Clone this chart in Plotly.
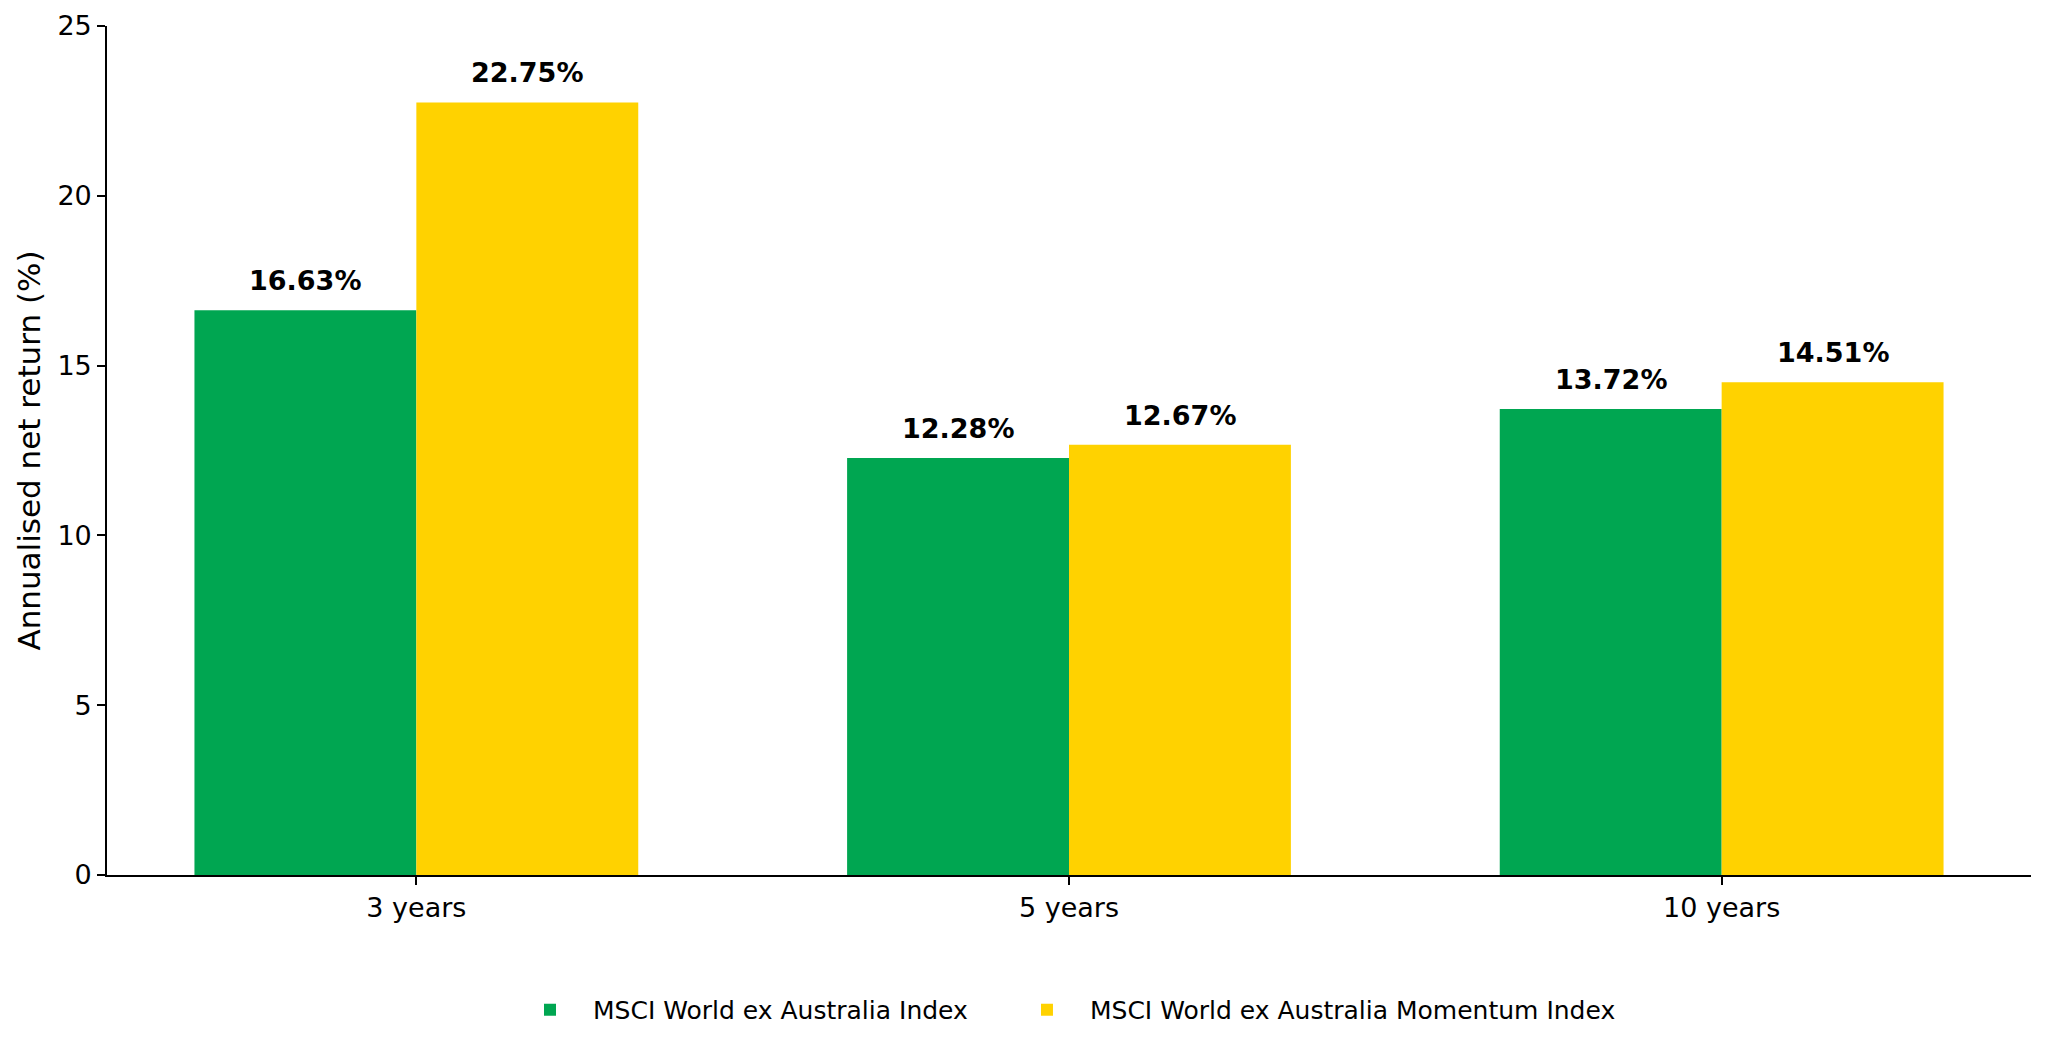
import plotly.graph_objects as go

# periods and annualised returns (%)
periods = ["3 years", "5 years", "10 years"]
world_index = [16.63, 12.28, 13.72]
momentum_index = [22.75, 12.67, 14.51]
series_names = ["MSCI World ex Australia Index", "MSCI World ex Australia Momentum Index"]
y_ticks = [0, 5, 10, 15, 20, 25]

green = "#00A651"
yellow = "#FFD200"
font_family = "DejaVu Sans"

fig = go.Figure()
fig.add_trace(go.Bar(x=periods, y=world_index, name=series_names[0],
                     marker=dict(color=green, line=dict(width=0)), legend="legend"))
fig.add_trace(go.Bar(x=periods, y=momentum_index, name=series_names[1],
                     marker=dict(color=yellow, line=dict(width=0)), legend="legend2"))

# value labels above each bar
bar_w = 0.34
for i, p in enumerate(periods):
    for off, vals in [(-bar_w / 2, world_index), (bar_w / 2, momentum_index)]:
        fig.add_annotation(x=i + off, y=vals[i], text="<b>%.2f%%</b>" % vals[i],
                           showarrow=False, yanchor="bottom", yshift=12,
                           font=dict(family=font_family, size=27, color="black"))

axis_common = dict(showline=True, linecolor="black", linewidth=1.6,
                   ticks="outside", ticklen=8, tickwidth=1.6, tickcolor="black",
                   showgrid=False, zeroline=False, automargin=False,
                   tickfont=dict(family=font_family, size=27, color="black"))

legend_common = dict(orientation="h", xanchor="left", y=-0.159, yanchor="middle",
                     font=dict(family=font_family, size=25, color="black"),
                     itemwidth=76)

fig.update_layout(
    width=2040, height=1043,
    margin=dict(l=99, r=17, t=18, b=176),
    plot_bgcolor="white", paper_bgcolor="white",
    barmode="group", bargap=0.32, bargroupgap=0,
    font=dict(family=font_family, color="black"),
    xaxis=dict(axis_common, range=[-0.474, 2.474]),
    yaxis=dict(axis_common, range=[0, 25], tickvals=y_ticks,
               title=dict(text="Annualised net return (%)", standoff=8,
                          font=dict(family=font_family, size=31, color="black"))),
    legend=dict(legend_common, x=0.2079),
    legend2=dict(legend_common, x=0.4662),
    showlegend=True,
)

fig.write_html("out.html")
